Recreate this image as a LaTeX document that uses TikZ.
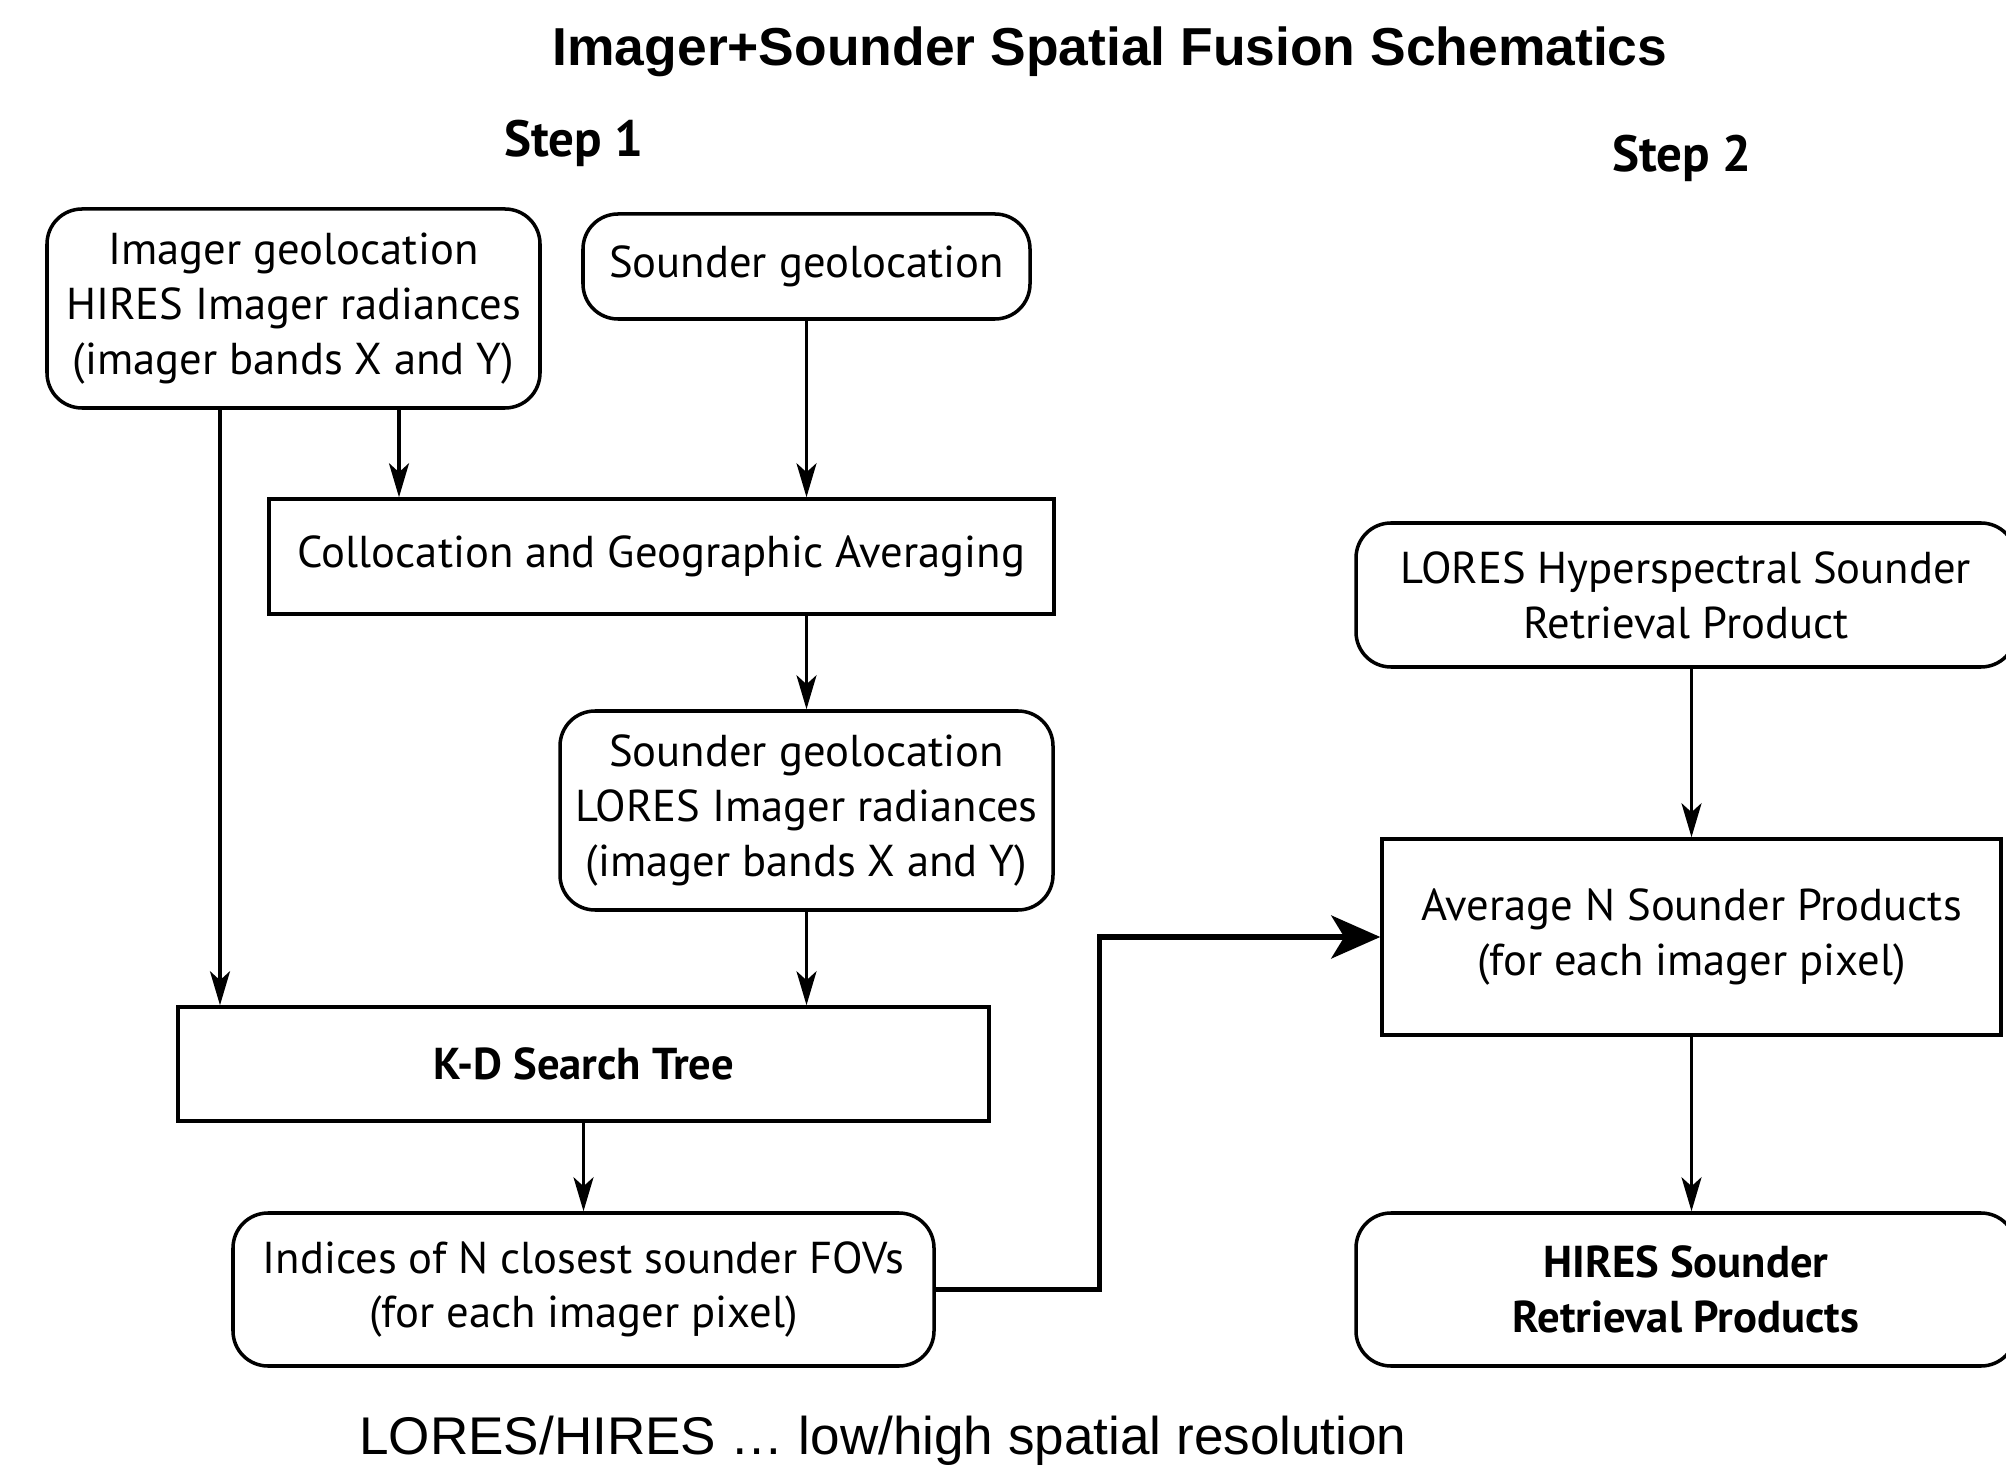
\documentclass[tikz,border=0pt]{standalone}
\usepackage{fontspec}
\setmainfont{PT Sans}
\newfontfamily\arialfont{Liberation Sans}
\usetikzlibrary{positioning, arrows.meta}
\newcommand\boxfont{\fontsize{12.7}{15.6}\selectfont}

\tikzset{
  rbox/.style={draw, line width=1pt, rounded corners=3.5mm, align=center, font=\boxfont},
  sbox/.style={draw, line width=1pt, align=center, font=\boxfont},
  arr/.style={line width=0.95pt, -{Stealth[length=3.4mm, width=2mm, inset=0.9mm]}},
  bigarr/.style={line width=1.5pt, -{Stealth[length=4.9mm, width=4.3mm, inset=1.3mm]}},
}

\begin{document}
\begin{tikzpicture}
    \useasboundingbox (0,0) rectangle (20.06,-14.73);
    \node (title) at (11.10,-0.52) {\arialfont\bfseries\fontsize{15.2}{18}\selectfont Imager+Sounder Spatial Fusion Schematics};
    \node (step1) at (5.74,-1.43) {\bfseries\fontsize{14.5}{17}\selectfont Step 1};
    \node (step2) at (16.82,-1.58) {\bfseries\fontsize{14.5}{17}\selectfont Step 2};

    % Step 1
    \node (img) [rbox, minimum width=4.93cm, minimum height=1.99cm] at (2.935,-3.085) {Imager geolocation\\HIRES Imager radiances\\(imager bands X and Y)};
    \node (sgeo) [rbox, minimum width=4.47cm, minimum height=1.05cm] at (8.065,-2.665) {Sounder geolocation};
    \node (coll) [sbox, minimum width=7.85cm, minimum height=1.15cm] at (6.615,-5.565) {Collocation and Geographic Averaging};
    \node (lores) [rbox, minimum width=4.93cm, minimum height=1.99cm] at (8.065,-8.105) {Sounder geolocation\\LORES Imager radiances\\(imager bands X and Y)};
    \node (kd) [sbox, minimum width=8.11cm, minimum height=1.14cm, font=\boxfont\bfseries] at (5.835,-10.64) {K-D Search Tree};
    \node (idx) [rbox, minimum width=7.01cm, minimum height=1.53cm] at (5.835,-12.895) {Indices of N closest sounder FOVs\\(for each imager pixel)};

    % Step 2
    \node (hyp) [rbox, minimum width=6.6cm, minimum height=1.44cm] at (16.86,-5.95) {LORES Hyperspectral Sounder\\Retrieval Product};
    \node (avg) [sbox, minimum width=6.19cm, minimum height=1.96cm] at (16.915,-9.37) {Average N Sounder Products\\(for each imager pixel)};
    \node (hires) [rbox, minimum width=6.6cm, minimum height=1.53cm, font=\boxfont\bfseries] at (16.86,-12.895) {HIRES Sounder\\Retrieval Products};

    \node (note) at (8.83,-14.41) {\arialfont\fontsize{15.1}{18}\selectfont LORES/HIRES … low/high spatial resolution};

    \coordinate (imgl) at ([xshift=-7.35mm]img.south);
    \coordinate (imgr) at ([xshift=10.55mm]img.south);
    \draw [arr] (imgl) -- (imgl |- kd.north);
    \draw [arr] (imgr) -- (imgr |- coll.north);
    \draw [arr] (sgeo.south) -- (sgeo.south |- coll.north);
    \draw [arr] (lores.north |- coll.south) -- (lores.north);
    \draw [arr] (lores.south) -- (lores.south |- kd.north);
    \draw [arr] (kd.south) -- (idx.north);
    \draw [arr] (avg.north |- hyp.south) -- (avg.north);
    \draw [arr] (avg.south) -- (avg.south |- hires.north);
    \draw [bigarr] (idx.east) -- ++(1.64,0) |- (avg.west);
\end{tikzpicture}
\end{document}
